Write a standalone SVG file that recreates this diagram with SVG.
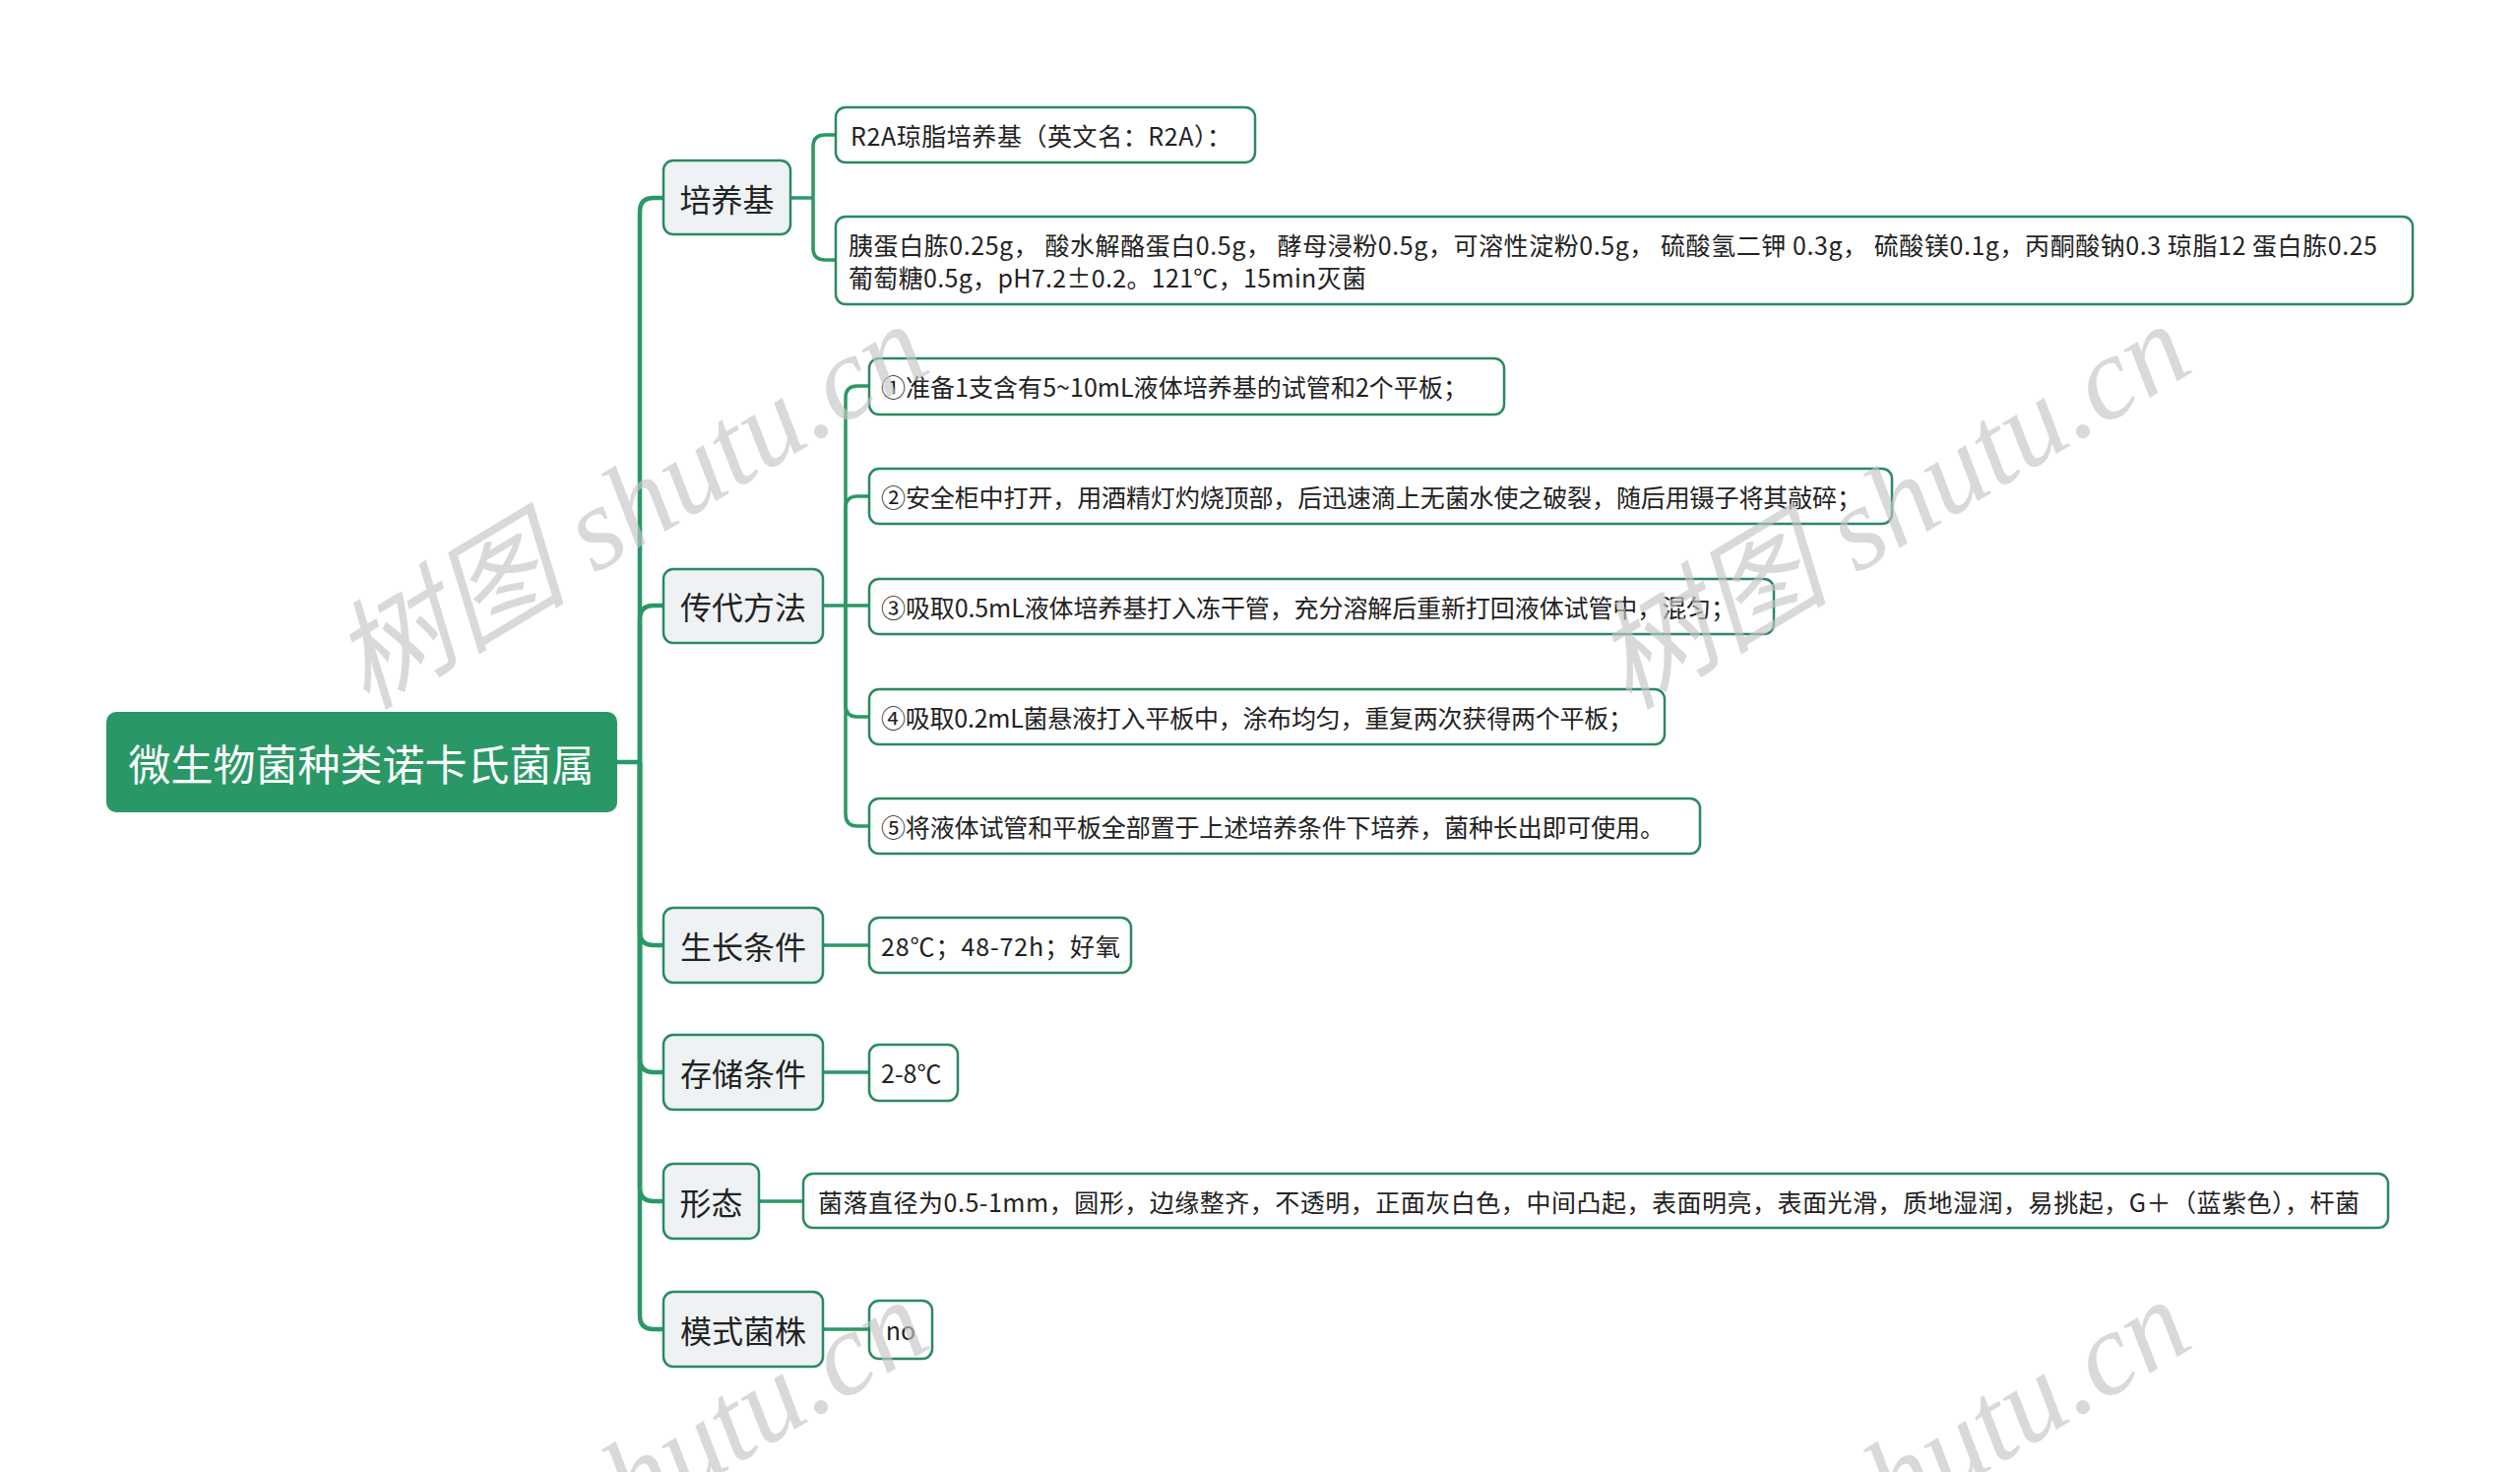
<svg xmlns="http://www.w3.org/2000/svg" width="2560" height="1495" viewBox="0 0 2560 1495">
<style>
.bg{fill:#ffffff}
.root{fill:#2a9866}
.roott{fill:#ffffff;font-family:"Noto Sans CJK SC","Noto Sans",sans-serif;font-size:43px}
.l1{fill:#eef2f4;stroke:#2a8a5e;stroke-width:2.5}
.l1t{fill:#222222;font-family:"Noto Sans CJK SC","Noto Sans",sans-serif;font-size:32px}
.l2{fill:#ffffff;stroke:#2a8a5e;stroke-width:2.5}
.l2t{fill:#222222;font-family:"Noto Sans CJK SC","Noto Sans",sans-serif;font-size:25px}
.c1{fill:none;stroke:#2a9866;stroke-width:4.5}
.c2{fill:none;stroke:#2a9866;stroke-width:3.5}
.wm{fill:#c4c4c4;fill-opacity:0.65;font-family:"Liberation Serif","Noto Sans CJK SC",serif;font-style:italic;font-size:120px}
</style>
<rect class="bg" x="0" y="0" width="2560" height="1495"/>
<g id="connectors">
  <path class="c1" d="M627,774 H650"/>
  <path class="c1" d="M650,774 V215 Q650,201 664,201 H674"/>
  <path class="c1" d="M650,774 V629 Q650,615 664,615 H674"/>
  <path class="c1" d="M650,774 V946 Q650,960 664,960 H674"/>
  <path class="c1" d="M650,774 V1075 Q650,1089 664,1089 H674"/>
  <path class="c1" d="M650,774 V1206 Q650,1220 664,1220 H674"/>
  <path class="c1" d="M650,774 V1336 Q650,1350 664,1350 H674"/>
  <path class="c2" d="M803,201 H826"/>
  <path class="c2" d="M826,201 V149 Q826,137 838,137 H849"/>
  <path class="c2" d="M826,201 V252 Q826,264 838,264 H849"/>
  <path class="c2" d="M836,615 H859"/>
  <path class="c2" d="M859,615 V404 Q859,392 871,392 H883"/>
  <path class="c2" d="M859,615 V516 Q859,504 871,504 H883"/>
  <path class="c2" d="M859,615 H883"/>
  <path class="c2" d="M859,615 V716 Q859,728 871,728 H883"/>
  <path class="c2" d="M859,615 V827 Q859,839 871,839 H883"/>
  <path class="c2" d="M836,960 H883"/>
  <path class="c2" d="M836,1089 H883"/>
  <path class="c2" d="M771,1220 H816"/>
  <path class="c2" d="M836,1350 H883"/>
</g>
<g id="root">
  <rect class="root" x="108" y="723" width="519" height="102" rx="10"/>
  <text class="roott" x="367" y="774" text-anchor="middle" dominant-baseline="central">微生物菌种类诺卡氏菌属</text>
</g>
<g id="n-peiyangji">
  <rect class="l1" x="674" y="163" width="129" height="75" rx="10"/>
  <text class="l1t" x="738.5" y="201" text-anchor="middle" dominant-baseline="central">培养基</text>
</g>
<g id="n-chuandai">
  <rect class="l1" x="674" y="578" width="162" height="75" rx="10"/>
  <text class="l1t" x="755" y="615" text-anchor="middle" dominant-baseline="central">传代方法</text>
</g>
<g id="n-shengzhang">
  <rect class="l1" x="674" y="922" width="162" height="76" rx="10"/>
  <text class="l1t" x="755" y="960" text-anchor="middle" dominant-baseline="central">生长条件</text>
</g>
<g id="n-cunchu">
  <rect class="l1" x="674" y="1051" width="162" height="76" rx="10"/>
  <text class="l1t" x="755" y="1089" text-anchor="middle" dominant-baseline="central">存储条件</text>
</g>
<g id="n-xingtai">
  <rect class="l1" x="674" y="1182" width="97" height="76" rx="10"/>
  <text class="l1t" x="722.5" y="1220" text-anchor="middle" dominant-baseline="central">形态</text>
</g>
<g id="n-moshi">
  <rect class="l1" x="674" y="1312" width="162" height="76" rx="10"/>
  <text class="l1t" x="755" y="1350" text-anchor="middle" dominant-baseline="central">模式菌株</text>
</g>
<g id="n-r2a">
  <rect class="l2" x="849" y="109" width="426" height="56" rx="10"/>
  <text class="l2t" x="864" y="137" dominant-baseline="central" textLength="387">R2A琼脂培养基（英文名：R2A）：</text>
</g>
<g id="n-formula">
  <rect class="l2" x="849" y="220" width="1602" height="89" rx="10"/>
  <text class="l2t" x="862" y="248" dominant-baseline="central" textLength="1553">胰蛋白胨0.25g， 酸水解酪蛋白0.5g， 酵母浸粉0.5g，可溶性淀粉0.5g， 硫酸氢二钾 0.3g， 硫酸镁0.1g，丙酮酸钠0.3 琼脂12 蛋白胨0.25</text>
  <text class="l2t" x="862" y="281" dominant-baseline="central" textLength="526">葡萄糖0.5g，pH7.2±0.2。121℃，15min灭菌</text>
</g>
<g id="n-step1">
  <rect class="l2" x="883" y="364" width="645" height="57" rx="10"/>
  <text class="l2t" x="895" y="392" dominant-baseline="central" textLength="596">①准备1支含有5~10mL液体培养基的试管和2个平板；</text>
</g>
<g id="n-step2">
  <rect class="l2" x="883" y="476" width="1039" height="56" rx="10"/>
  <text class="l2t" x="895" y="504" dominant-baseline="central" textLength="996">②安全柜中打开，用酒精灯灼烧顶部，后迅速滴上无菌水使之破裂，随后用镊子将其敲碎；</text>
</g>
<g id="n-step3">
  <rect class="l2" x="883" y="588" width="919" height="56" rx="10"/>
  <text class="l2t" x="895" y="616" dominant-baseline="central" textLength="868">③吸取0.5mL液体培养基打入冻干管，充分溶解后重新打回液体试管中，混匀；</text>
</g>
<g id="n-step4">
  <rect class="l2" x="883" y="700" width="808" height="56" rx="10"/>
  <text class="l2t" x="895" y="728" dominant-baseline="central" textLength="764">④吸取0.2mL菌悬液打入平板中，涂布均匀，重复两次获得两个平板；</text>
</g>
<g id="n-step5">
  <rect class="l2" x="883" y="811" width="844" height="56" rx="10"/>
  <text class="l2t" x="895" y="839" dominant-baseline="central" textLength="796">⑤将液体试管和平板全部置于上述培养条件下培养，菌种长出即可使用。</text>
</g>
<g id="n-growth">
  <rect class="l2" x="883" y="932" width="266" height="56" rx="10"/>
  <text class="l2t" x="895" y="960" dominant-baseline="central" textLength="243">28℃；48-72h；好氧</text>
</g>
<g id="n-storage">
  <rect class="l2" x="883" y="1061" width="90" height="57" rx="10"/>
  <text class="l2t" x="895" y="1089" dominant-baseline="central">2-8℃</text>
</g>
<g id="n-morph">
  <rect class="l2" x="816" y="1192" width="1610" height="55" rx="10"/>
  <text class="l2t" x="831" y="1220" dominant-baseline="central" textLength="1566">菌落直径为0.5-1mm，圆形，边缘整齐，不透明，正面灰白色，中间凸起，表面明亮，表面光滑，质地湿润，易挑起，G＋（蓝紫色），杆菌</text>
</g>
<g id="n-type">
  <rect class="l2" x="883" y="1321" width="64" height="59" rx="10"/>
  <text class="l2t" x="915" y="1350" text-anchor="middle" dominant-baseline="central">no</text>
</g>
<g id="watermark">
  <text class="wm" x="640" y="514" text-anchor="middle" dominant-baseline="central" transform="rotate(-31 640 514)">树图 shutu.cn</text>
  <text class="wm" x="1922" y="514" text-anchor="middle" dominant-baseline="central" transform="rotate(-31 1922 514)">树图 shutu.cn</text>
  <text class="wm" x="640" y="1505" text-anchor="middle" dominant-baseline="central" transform="rotate(-31 640 1505)">树图 shutu.cn</text>
  <text class="wm" x="1922" y="1505" text-anchor="middle" dominant-baseline="central" transform="rotate(-31 1922 1505)">树图 shutu.cn</text>
</g>
</svg>
